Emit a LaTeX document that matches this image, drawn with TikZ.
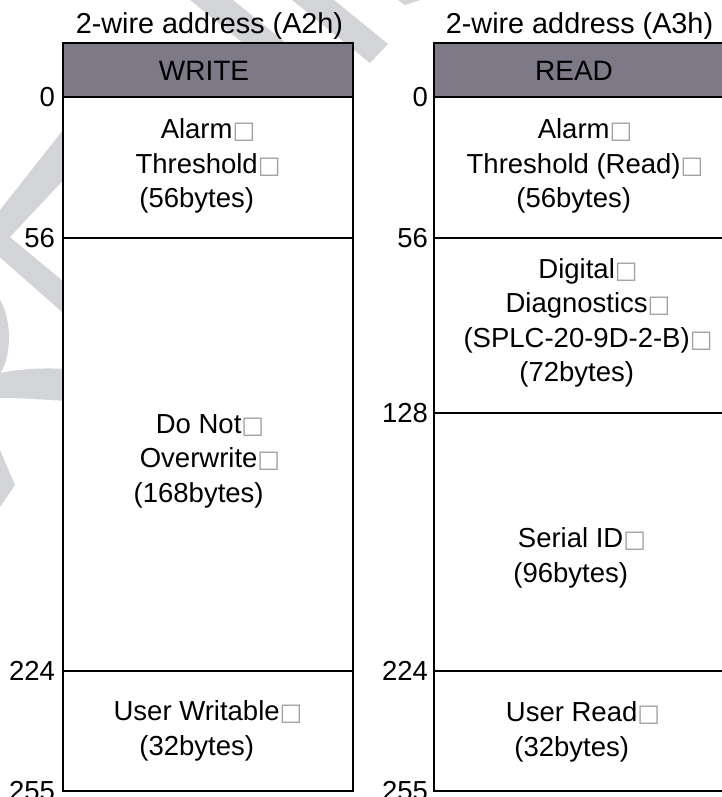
\documentclass[tikz,border=0pt]{standalone}
\usepackage{fontspec}
\setmainfont{Liberation Sans}
\newfontfamily\symbolfont{DejaVu Sans}
\definecolor{headfill}{RGB}{126,121,135}
\definecolor{markgray}{RGB}{211,212,215}
\definecolor{tofugray}{RGB}{160,160,160}
% placeholder square that follows each line break in the cell captions
\newcommand\tofu{{\symbolfont\fontsize{24}{24}\selectfont\textcolor{tofugray}{□}}}
\newcommand\tofuspace{\phantom{\tofu}}

\begin{document}
\begin{tikzpicture}[x=1pt,y=-1pt,
  every node/.style={inner sep=0pt,outer sep=0pt},
  titletext/.style={font=\fontsize{28.8}{34}\selectfont,anchor=base},
  headtext/.style={font=\fontsize{28}{34}\selectfont,anchor=base},
  celltext/.style={font=\fontsize{27.5}{34.5}\selectfont,align=center},
  addr/.style={font=\fontsize{27.5}{34}\selectfont,anchor=east},
  frameline/.style={line width=2.5pt},
  divider/.style={line width=2pt},
  wmark/.style={fill=markgray}]

\useasboundingbox (0,0) rectangle (721,797);

% faint background logo
\fill[wmark] (190,0) -- (233,0) -- (307,60) -- (264,60) -- cycle;
\fill[wmark] (292,0) -- (334,0) -- (388,44) -- (370,63) -- cycle;
\fill[wmark] (398,0) -- (420,0) -- (405,5) -- cycle;
\fill[wmark] (70,121) -- (-22,238) -- (70,319) -- (70,287) -- (10,237) -- (70,173) -- cycle;
\fill[wmark] (0,300) .. controls (12,320) and (12,355) .. (0,374) -- cycle;
\fill[wmark] (0,373) .. controls (25,368) and (45,368) .. (70,369) -- (70,401)
  .. controls (45,400) and (25,398) .. (0,398) -- cycle;
\fill[wmark] (0,450) -- (15,485) -- (0,507) -- cycle;

% WRITE map (A2h)
\fill[headfill] (63,43) rectangle (353,97);
\fill[white] (63,97) rectangle (353,791);
\draw[divider] (63,238) -- (353,238);
\draw[divider] (63,671) -- (353,671);
\draw[frameline] (63,97) -- (353,97);
\draw[frameline] (63,43) rectangle (353,791);

% READ map (A3h)
\fill[headfill] (434,43) rectangle (730,97);
\fill[white] (434,97) rectangle (730,791);
\draw[divider] (434,238) -- (730,238);
\draw[divider] (434,413) -- (730,413);
\draw[divider] (434,671) -- (730,671);
\draw[frameline] (434,97) -- (730,97);
\draw[frameline] (434,43) rectangle (730,791);

% titles and headers
\node[titletext] (tw) at (209.5,34) {2-wire address (A2h)};
\node[titletext] (tr) at (579.5,34) {2-wire address (A3h)};
\node[headtext] (hw) at (204,81) {WRITE};
\node[headtext] (hr) at (574,81) {READ};

% WRITE cells
\node[celltext] (w1) at (208,166) {Alarm\tofu\\Threshold\tofu\\(56bytes)\tofuspace};
\node[celltext] (w2) at (210,461) {Do Not\tofu\\Overwrite\tofu\\(168bytes)\tofuspace};
\node[celltext] (w3) at (208,731) {User Writable\tofu\\(32bytes)\tofuspace};

% READ cells
\node[celltext] (r1) at (585,166) {Alarm\tofu\\Threshold (Read)\tofu\\(56bytes)\tofuspace};
\node[celltext] (r2) at (588,323) {Digital\tofu\\Diagnostics\tofu\\(SPLC-20-9D-2-B)\tofu\\(72bytes)\tofuspace};
\node[celltext] (r3) at (582,558) {Serial ID\tofu\\(96bytes)\tofuspace};
\node[celltext] (r4) at (583,732) {User Read\tofu\\(32bytes)\tofuspace};

% byte offsets
\node[addr] (wa0) at (55,97) {0};
\node[addr] (wa1) at (55,238) {56};
\node[addr] (wa2) at (55,671) {224};
\node[addr] (wa3) at (55,791) {255};
\node[addr] (ra0) at (428,97) {0};
\node[addr] (ra1) at (428,238) {56};
\node[addr] (ra2) at (428,413) {128};
\node[addr] (ra3) at (428,671) {224};
\node[addr] (ra4) at (428,791) {255};
\end{tikzpicture}
\end{document}
